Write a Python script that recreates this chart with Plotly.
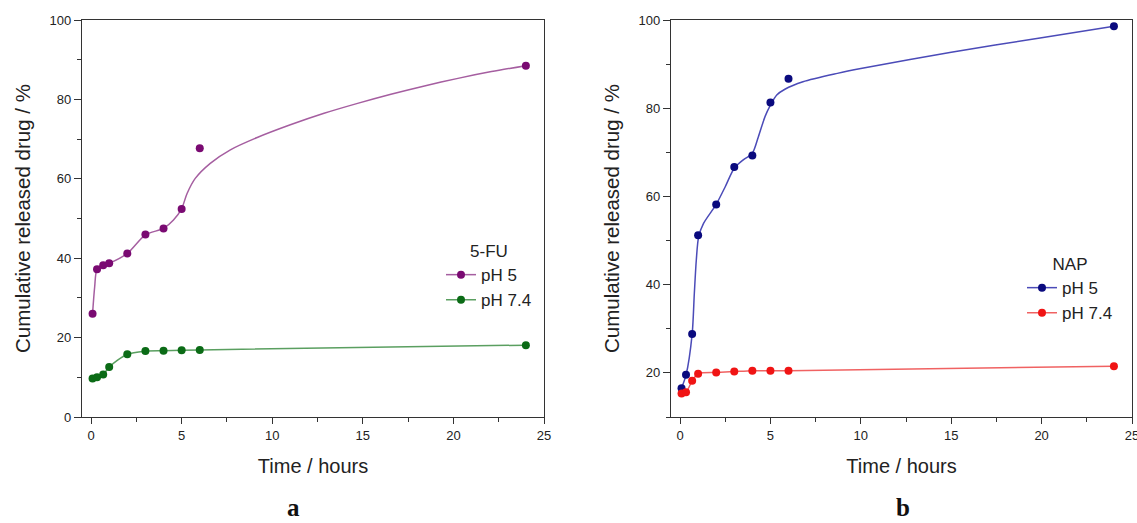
import plotly.graph_objects as go

# Sampling times (hours)
time_h = [0.083, 0.33, 0.67, 1, 2, 3, 4, 5, 6, 24]

# 5-FU cumulative release (%)
fu_ph5 = [26.0, 37.2, 38.2, 38.7, 41.2, 46.0, 47.5, 52.4, 67.7, 88.5]
fu_ph74 = [9.7, 10.0, 10.7, 12.6, 15.8, 16.6, 16.7, 16.8, 16.9, 18.1]

# NAP cumulative release (%)
nap_ph5 = [16.5, 19.6, 28.8, 51.2, 58.2, 66.7, 69.3, 81.3, 86.7, 98.6]
nap_ph74 = [15.3, 15.6, 18.2, 19.8, 20.1, 20.3, 20.5, 20.5, 20.5, 21.5]

# Smoothed release profiles drawn through the pH 5 data
fu_ph5_fit_t = [0.083, 0.2, 0.33, 0.67, 1, 2, 3, 4, 4.55, 5, 5.3, 5.75, 6.58, 7.69, 9.17, 11.0, 12.86,
                14.71, 16.55, 18.4, 20.25, 22.1, 24]
fu_ph5_fit = [26.0, 32.8, 37.2, 38.2, 38.7, 41.2, 45.9, 47.5, 49.6, 52.5, 56.3, 60.1, 63.9, 67.3, 70.4,
              73.6, 76.5, 79.0, 81.3, 83.4, 85.3, 87.0, 88.5]
nap_ph5_fit_t = [0.083, 0.33, 0.67, 0.79, 0.9, 1.03, 1.3, 2.0, 2.5, 3.0, 3.5, 4.0, 4.33, 4.7, 5.0, 5.35,
                 5.8, 6.8, 8.7, 10, 15, 20, 24]
nap_ph5_fit = [16.6, 19.5, 28.8, 38.0, 45.6, 50.9, 53.9, 58.2, 62.2, 66.4, 68.3, 69.8, 73.5, 78.1, 80.7,
               83.0, 84.3, 86.0, 87.9, 89.0, 92.7, 96.0, 98.6]

x_ticks = [0, 5, 10, 15, 20, 25]
y_ticks_a = [0, 20, 40, 60, 80, 100]
y_ticks_b = [20, 40, 60, 80, 100]

FONT = "Liberation Sans, Arial, sans-serif"
AXIS_COLOR = "#333333"
TEXT_COLOR = "#222222"

series = [
    # (legend name, legend id, axes, marker colour, line colour, data, curve x, curve y)
    ("pH 5", "legend", ("x", "y"), "#7a0a72", "#a55ea0", fu_ph5, fu_ph5_fit_t, fu_ph5_fit),
    ("pH 7.4", "legend", ("x", "y"), "#0b6b16", "#5a9f60", fu_ph74, time_h, fu_ph74),
    ("pH 5", "legend2", ("x2", "y2"), "#0a0a7e", "#4b4bb8", nap_ph5, nap_ph5_fit_t, nap_ph5_fit),
    ("pH 7.4", "legend2", ("x2", "y2"), "#f01414", "#f06262", nap_ph74, time_h, nap_ph74),
]

fig = go.Figure()
for name, leg, (xa, ya), mcol, lcol, vals, cx, cy in series:
    fig.add_trace(go.Scatter(
        x=cx, y=cy, xaxis=xa, yaxis=ya, mode="lines",
        line=dict(color=lcol, width=1.5, shape="spline", smoothing=0.8),
        showlegend=False, hoverinfo="skip"))
    fig.add_trace(go.Scatter(
        x=time_h, y=vals, xaxis=xa, yaxis=ya, mode="markers",
        marker=dict(color=mcol, size=8), showlegend=False, name=name))
    # legend entry (line with marker)
    fig.add_trace(go.Scatter(
        x=[None], y=[None], xaxis=xa, yaxis=ya, mode="lines+markers", name=name,
        line=dict(color=lcol, width=1.5), marker=dict(color=mcol, size=8),
        legend=leg, showlegend=True))

W, H = 1137, 523
common_x = dict(
    range=[-0.5, 25], tickvals=x_ticks, ticks="outside", ticklen=6, tickwidth=1.3,
    tickcolor=AXIS_COLOR, showline=True, linecolor=AXIS_COLOR, linewidth=1.3, mirror=True,
    showgrid=False, zeroline=False, automargin=False, ticklabeloverflow="allow",
    tickfont=dict(family=FONT, size=13, color=TEXT_COLOR),
    minor=dict(dtick=2.5, tick0=0, ticks="outside", ticklen=4, tickcolor=AXIS_COLOR, showgrid=False),
    title=dict(text="Time / hours", font=dict(family=FONT, size=20, color=TEXT_COLOR), standoff=17),
)
common_y = dict(
    ticks="outside", ticklen=7, tickwidth=1.3, tickcolor=AXIS_COLOR, showline=True,
    linecolor=AXIS_COLOR, linewidth=1.3, mirror=True, showgrid=False, zeroline=False, automargin=False,
    tickfont=dict(family=FONT, size=13, color=TEXT_COLOR),
    minor=dict(dtick=10, tick0=0, ticks="outside", ticklen=4, tickcolor=AXIS_COLOR, showgrid=False),
    title=dict(text="Cumulative released drug / %", font=dict(family=FONT, size=20.5, color=TEXT_COLOR),
               standoff=13),
)

y_dom = [1 - 417 / H, 1 - 20 / H]
LEG_FONT = dict(family=FONT, size=17, color=TEXT_COLOR)
PANEL_FONT = dict(family="Liberation Serif, Times New Roman, serif", size=25, color="#111111")
fig.update_layout(
    width=W, height=H, margin=dict(l=0, r=0, t=0, b=0, autoexpand=False),
    paper_bgcolor="white", plot_bgcolor="white",
    xaxis=dict(domain=[82 / W, 544 / W], anchor="y", **common_x),
    yaxis=dict(domain=y_dom, anchor="x", range=[0, 100], tickvals=y_ticks_a, **common_y),
    xaxis2=dict(domain=[671 / W, 1132 / W], anchor="y2", **common_x),
    yaxis2=dict(domain=y_dom, anchor="x2", range=[10, 100], tickvals=y_ticks_b, **common_y),
    legend=dict(x=441 / W, y=1 - 235 / H, xanchor="left", yanchor="top", bgcolor="rgba(0,0,0,0)",
                font=LEG_FONT, title=dict(text="5-FU", side="top center", font=LEG_FONT)),
    legend2=dict(x=1022 / W, y=1 - 248 / H, xanchor="left", yanchor="top", bgcolor="rgba(0,0,0,0)",
                 font=LEG_FONT, tracegroupgap=0,
                 title=dict(text="NAP", side="top center", font=LEG_FONT)),
    annotations=[
        dict(text="<b>a</b>", x=293 / W, y=1 - 507 / H, xref="paper", yref="paper", showarrow=False,
             xanchor="center", yanchor="middle", font=PANEL_FONT),
        dict(text="<b>b</b>", x=903 / W, y=1 - 507 / H, xref="paper", yref="paper", showarrow=False,
             xanchor="center", yanchor="middle", font=PANEL_FONT),
    ],
)

fig.write_html("out.html")
